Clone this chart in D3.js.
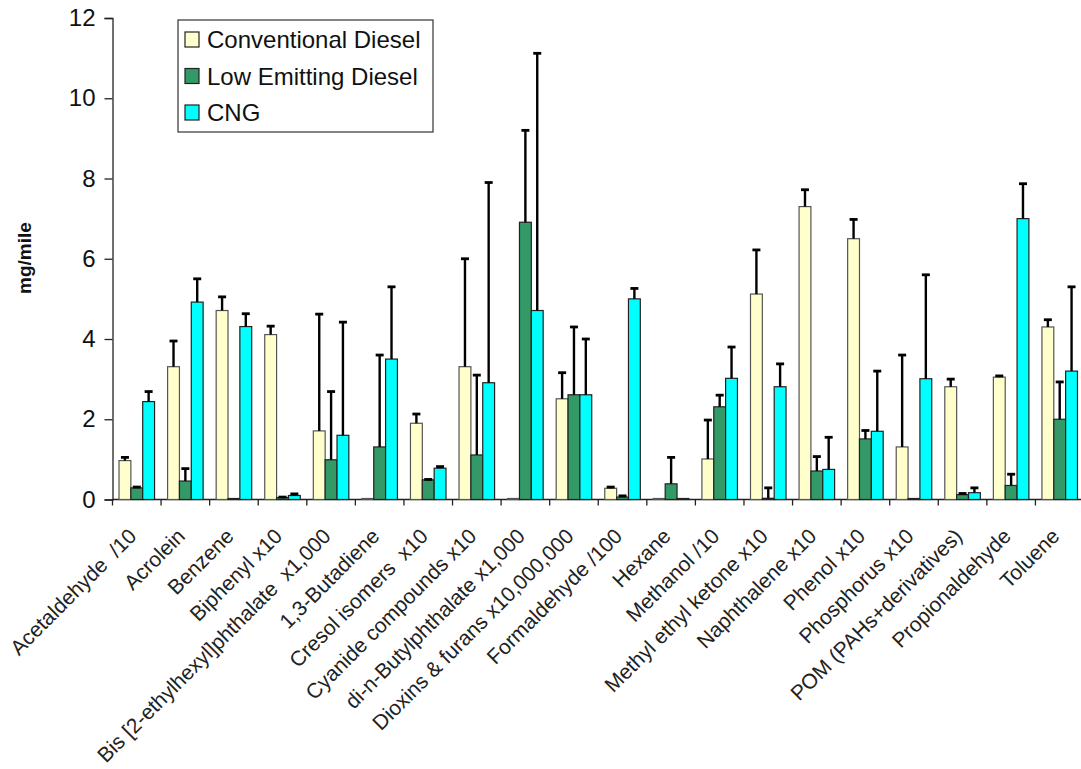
<!DOCTYPE html>
<html lang="en">
<head>
    <meta charset="UTF-8">
    <title>Air toxics emissions by fuel type</title>
    <script type="text/javascript" src="https://d3js.org/d3.v7.min.js"></script>
    <style>
        body { margin: 0; background: #fff; }
        svg { display: block; font-family: "Liberation Sans", Arial, sans-serif; }
        text { white-space: pre; }
    </style>
</head>
<body>
    <svg width="1081" height="769"></svg>

    <script>
        // data (mg/mile), errors are the upper whisker length
        var categories = ["Acetaldehyde  /10", "Acrolein", "Benzene", "Biphenyl x10",
            "Bis [2-ethylhexyl]phthalate  x1,000", "1,3-Butadiene", "Cresol isomers  x10",
            "Cyanide compounds x10", "di-n-Butylphthalate x1,000", "Dioxins & furans x10,000,000",
            "Formaldehyde /100", "Hexane", "Methanol /10", "Methyl ethyl ketone x10",
            "Naphthalene x10", "Phenol x10", "Phosphorus x10", "POM (PAHs+derivatives)",
            "Propionaldehyde", "Toluene"];

        var seriesNames = ["Conventional Diesel", "Low Emitting Diesel", "CNG"];
        var seriesColors = ["#ffffcc", "#339966", "#00ffff"];

        var conventional = [0.97, 3.31, 4.71, 4.11, 1.71, 0, 1.9, 3.31, 0, 2.51, 0.28, 0, 1.01, 5.12, 7.3, 6.5, 1.31, 2.81, 3.05, 4.3];
        var conventionalErr = [0.08, 0.64, 0.34, 0.21, 2.91, 0, 0.23, 2.69, 0, 0.65, 0.03, 0, 0.97, 1.1, 0.42, 0.48, 2.29, 0.19, 0.03, 0.18];

        var lowEmitting = [0.29, 0.46, 0, 0.05, 0.99, 1.31, 0.49, 1.11, 6.91, 2.61, 0.06, 0.39, 2.31, 0.03, 0.71, 1.51, 0, 0.12, 0.35, 2.0];
        var lowEmittingErr = [0.02, 0.31, 0, 0.01, 1.7, 2.29, 0.01, 1.99, 2.29, 1.69, 0.03, 0.66, 0.29, 0.26, 0.36, 0.21, 0, 0.03, 0.28, 0.93];

        var cng = [2.44, 4.92, 4.31, 0.1, 1.6, 3.5, 0.78, 2.91, 4.71, 2.61, 5.0, 0, 3.02, 2.81, 0.75, 1.7, 3.01, 0.17, 7.0, 3.2];
        var cngErr = [0.25, 0.58, 0.32, 0.04, 2.82, 1.8, 0.04, 4.99, 6.41, 1.39, 0.26, 0, 0.78, 0.57, 0.8, 1.5, 2.59, 0.12, 0.87, 2.1];

        var yTicks = [0, 2, 4, 6, 8, 10, 12];

        var values = [conventional, lowEmitting, cng];
        var errors = [conventionalErr, lowEmittingErr, cngErr];

        var svg = d3.select("svg");

        var x = d3.scaleBand()
            .domain(categories)
            .range([112.5, 1084]);

        var sub = d3.scaleBand()
            .domain([0, 1, 2])
            .range([0, x.bandwidth()])
            .paddingOuter(0.55)
            .paddingInner(0);

        var y = d3.scaleLinear()
            .domain([0, 12])
            .range([499.5, 18]);

        // y axis
        var yAxis = svg.append("g")
            .attr("transform", "translate(112.5,0)")
            .call(d3.axisLeft(y).tickValues(yTicks).tickSize(8).tickPadding(9));
        yAxis.selectAll("text").style("font-size", "24px").attr("fill", "#111");
        yAxis.selectAll("line, path").attr("stroke", "#222").attr("stroke-width", 1.3);

        // x axis, ticks sit between the groups
        var xAxis = svg.append("g")
            .attr("transform", "translate(0,499.5)");
        xAxis.append("line")
            .attr("x1", 112.5).attr("x2", 1084)
            .attr("stroke", "#222").attr("stroke-width", 1.3);
        xAxis.selectAll("line.tick")
            .data(categories)
            .enter()
            .append("line")
            .attr("class", "tick")
            .attr("x1", d => x(d)).attr("x2", d => x(d))
            .attr("y1", 0).attr("y2", 6)
            .attr("stroke", "#222").attr("stroke-width", 1.3);

        xAxis.selectAll("text")
            .data(categories)
            .enter()
            .append("text")
            .attr("transform", d => "translate(" + (x(d) + x.bandwidth() / 2 + 1) + ",38) rotate(-45)")
            .attr("text-anchor", "end")
            .style("font-size", "21px")
            .attr("fill", "#222")
            .text(d => d);

        // bars
        var groups = svg.selectAll("g.group")
            .data(categories)
            .enter()
            .append("g")
            .attr("class", "group")
            .attr("transform", d => "translate(" + x(d) + ",0)");

        groups.each(function (c, i) {
            var g = d3.select(this);
            [0, 1, 2].forEach(function (s) {
                var v = values[s][i];
                var bx = sub(s);
                var h = y(0) - y(v);
                g.append("rect")
                    .attr("x", bx)
                    .attr("y", y(v) - (h < 1 ? 1 : 0))
                    .attr("width", sub.bandwidth())
                    .attr("height", Math.max(h, 1))
                    .attr("fill", seriesColors[s])
                    .attr("stroke", s === 0 ? "#555" : "#222")
                    .attr("stroke-width", 1.2);
            });
        });

        // error bars on top
        groups.each(function (c, i) {
            var g = d3.select(this);
            [0, 1, 2].forEach(function (s) {
                var e = errors[s][i];
                if (!e) return;
                var v = values[s][i];
                var cx = sub(s) + sub.bandwidth() / 2;
                g.append("line")
                    .attr("x1", cx).attr("x2", cx)
                    .attr("y1", y(v)).attr("y2", y(v + e))
                    .attr("stroke", "#000").attr("stroke-width", 2.4);
                g.append("line")
                    .attr("x1", cx - 4).attr("x2", cx + 4)
                    .attr("y1", y(v + e)).attr("y2", y(v + e))
                    .attr("stroke", "#000").attr("stroke-width", 2.8);
            });
        });

        // y label
        svg.append("text")
            .attr("transform", "translate(31,258) rotate(-90)")
            .attr("text-anchor", "middle")
            .style("font-size", "19px")
            .style("font-weight", "bold")
            .attr("fill", "#111")
            .text("mg/mile");

        // legend
        var legend = svg.append("g").attr("transform", "translate(178,20)");
        legend.append("rect")
            .attr("width", 255).attr("height", 112)
            .attr("fill", "#fff").attr("stroke", "#333").attr("stroke-width", 1.2);
        var items = legend.selectAll("g.item")
            .data(seriesNames)
            .enter()
            .append("g")
            .attr("class", "item")
            .attr("transform", (d, i) => "translate(7," + (12 + i * 36.5) + ")");
        items.append("rect")
            .attr("width", 14).attr("height", 15)
            .attr("fill", (d, i) => seriesColors[i])
            .attr("stroke", "#222").attr("stroke-width", 1.2);
        items.append("text")
            .attr("x", 22).attr("y", 16)
            .style("font-size", "24px")
            .attr("fill", "#111")
            .text(d => d);
    </script>
</body>
</html>
